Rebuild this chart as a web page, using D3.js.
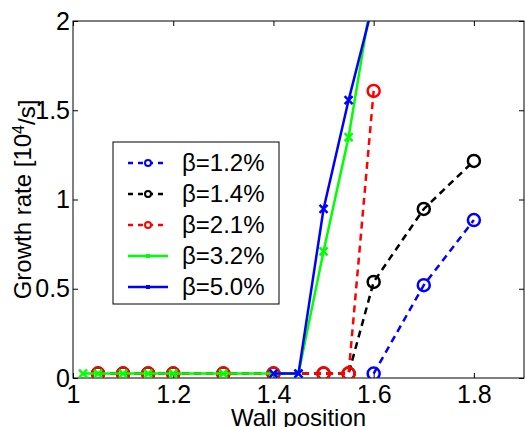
<!DOCTYPE html>
<html>
<head>
<meta charset="utf-8">
<script src="https://cdn.jsdelivr.net/npm/d3@7"></script>
<style>
  body { margin: 0; background: #fff; }
  svg text { font-family: "Liberation Sans", Arial, Helvetica, sans-serif; fill: #000; }
</style>
</head>
<body>
<svg id="chart" width="525" height="427"></svg>
<script>
// values
var xTicks = [1, 1.2, 1.4, 1.6, 1.8];
var yTicks = [0, 0.5, 1, 1.5, 2];

var x12 = [1.6, 1.7, 1.8];
var y12 = [0.025, 0.52, 0.885];

var x14 = [1.05, 1.1, 1.15, 1.2, 1.3, 1.4, 1.5, 1.55, 1.6, 1.7, 1.8];
var y14 = [0.025, 0.025, 0.025, 0.025, 0.025, 0.025, 0.025, 0.025, 0.538, 0.947, 1.216];

var x21 = [1.05, 1.1, 1.15, 1.2, 1.3, 1.4, 1.5, 1.55, 1.6];
var y21 = [0.025, 0.025, 0.025, 0.025, 0.025, 0.025, 0.025, 0.025, 1.608];

var x32 = [1.02, 1.05, 1.1, 1.15, 1.2, 1.3, 1.4, 1.45, 1.5, 1.55, 1.6];
var y32 = [0.025, 0.025, 0.025, 0.025, 0.025, 0.025, 0.025, 0.025, 0.71, 1.35, 2.2];

var x50 = [1.4, 1.45, 1.5, 1.55, 1.6];
var y50 = [0.025, 0.025, 0.947, 1.557, 2.11];

var labels = ["β=1.2%", "β=1.4%", "β=2.1%", "β=3.2%", "β=5.0%"];

var series = [
  {xs: x12, ys: y12, color: "#0000ff", dash: "7,5", marker: "o"},
  {xs: x14, ys: y14, color: "#000000", dash: "7,5", marker: "o"},
  {xs: x21, ys: y21, color: "#ff0000", dash: "7,5", marker: "o"},
  {xs: x32, ys: y32, color: "#00ff00", dash: null, marker: "x"},
  {xs: x50, ys: y50, color: "#0000ff", dash: null, marker: "x"}
];

var svg = d3.select("#chart");
var pLeft = 73, pRight = 524, pTop = 21, pBottom = 378;

var x = d3.scaleLinear().domain([1, 1.9]).range([pLeft, pRight]);
var y = d3.scaleLinear().domain([0, 2]).range([pBottom, pTop]);

svg.append("defs").append("clipPath").attr("id", "plotclip")
  .append("rect")
    .attr("x", pLeft).attr("y", pTop)
    .attr("width", pRight - pLeft).attr("height", pBottom - pTop);

// axes with inward ticks on all four sides
var gx = svg.append("g").attr("transform", "translate(0," + pBottom + ")")
  .call(d3.axisBottom(x).tickValues(xTicks).tickSize(-5).tickPadding(7)
        .tickFormat(function(d){ return d3.format("")(d); }));
var gxt = svg.append("g").attr("transform", "translate(0," + pTop + ")")
  .call(d3.axisTop(x).tickValues(xTicks).tickSize(-5).tickFormat(""));
var gy = svg.append("g").attr("transform", "translate(" + pLeft + ",0)")
  .call(d3.axisLeft(y).tickValues(yTicks).tickSize(-5).tickPadding(3)
        .tickFormat(function(d){ return d3.format("")(d); }));
var gyr = svg.append("g").attr("transform", "translate(" + pRight + ",0)")
  .call(d3.axisRight(y).tickValues(yTicks).tickSize(-5).tickFormat(""));

[gx, gxt, gy, gyr].forEach(function(g){
  g.select(".domain").remove();
  g.selectAll("line").attr("stroke", "#000").attr("stroke-width", 1);
  g.selectAll("text").style("font-size", "25px").attr("fill", "#000");
});

svg.append("rect")
  .attr("x", pLeft).attr("y", pTop)
  .attr("width", pRight - pLeft).attr("height", pBottom - pTop)
  .attr("fill", "none").attr("stroke", "#000").attr("stroke-width", 1);

// series
var plot = svg.append("g").attr("clip-path", "url(#plotclip)");
var line = d3.line().x(function(d){ return x(d[0]); }).y(function(d){ return y(d[1]); });

function drawMarker(g, px, py, s, size) {
  if (s.marker === "o") {
    g.append("circle").attr("cx", px).attr("cy", py).attr("r", size)
      .attr("fill", "none").attr("stroke", s.color).attr("stroke-width", 2.5);
  } else {
    g.append("path")
      .attr("d", "M" + (px - size) + "," + (py - size) + "L" + (px + size) + "," + (py + size) +
                 "M" + (px - size) + "," + (py + size) + "L" + (px + size) + "," + (py - size))
      .attr("stroke", s.color).attr("stroke-width", 2.5);
  }
}

series.forEach(function(s){
  var pts = s.xs.map(function(v, i){ return [v, s.ys[i]]; });
  plot.append("path").datum(pts)
    .attr("d", line)
    .attr("fill", "none")
    .attr("stroke", s.color)
    .attr("stroke-width", 2.5)
    .attr("stroke-dasharray", s.dash);
  pts.forEach(function(p){
    drawMarker(plot, x(p[0]), y(p[1]), s, s.marker === "o" ? 6 : 4);
  });
});

// legend
var lg = svg.append("g");
lg.append("rect")
  .attr("x", 113).attr("y", 142).attr("width", 166).attr("height", 162)
  .attr("fill", "#fff").attr("stroke", "#000").attr("stroke-width", 1);

series.forEach(function(s, i){
  var ly = 163 + i * 31;
  lg.append("line")
    .attr("x1", 128).attr("x2", 168).attr("y1", ly).attr("y2", ly)
    .attr("stroke", s.color).attr("stroke-width", 2.5)
    .attr("stroke-dasharray", s.dash ? "5,5" : null);
  if (s.marker === "o") {
    lg.append("circle").attr("cx", 148).attr("cy", ly).attr("r", 3)
      .attr("fill", "#fff").attr("stroke", s.color).attr("stroke-width", 2);
  } else {
    lg.append("rect").attr("x", 146).attr("y", ly - 2).attr("width", 4).attr("height", 4)
      .attr("fill", s.color);
  }
  lg.append("text")
    .attr("x", 182).attr("y", ly + 8)
    .style("font-size", "24px")
    .text(labels[i]);
});

// axis titles
svg.append("text")
  .attr("x", (pLeft + pRight) / 2).attr("y", 426)
  .attr("text-anchor", "middle")
  .style("font-size", "24px")
  .text("Wall position");

var yl = svg.append("text")
  .attr("transform", "translate(31," + ((pTop + pBottom) / 2) + ") rotate(-90)")
  .attr("text-anchor", "middle")
  .style("font-size", "24px");
yl.append("tspan").text("Growth rate [10");
yl.append("tspan").attr("dy", "-0.45em").style("font-size", "16px").text("4");
yl.append("tspan").attr("dy", "0.45em").text("/s]");
</script>
</body>
</html>
